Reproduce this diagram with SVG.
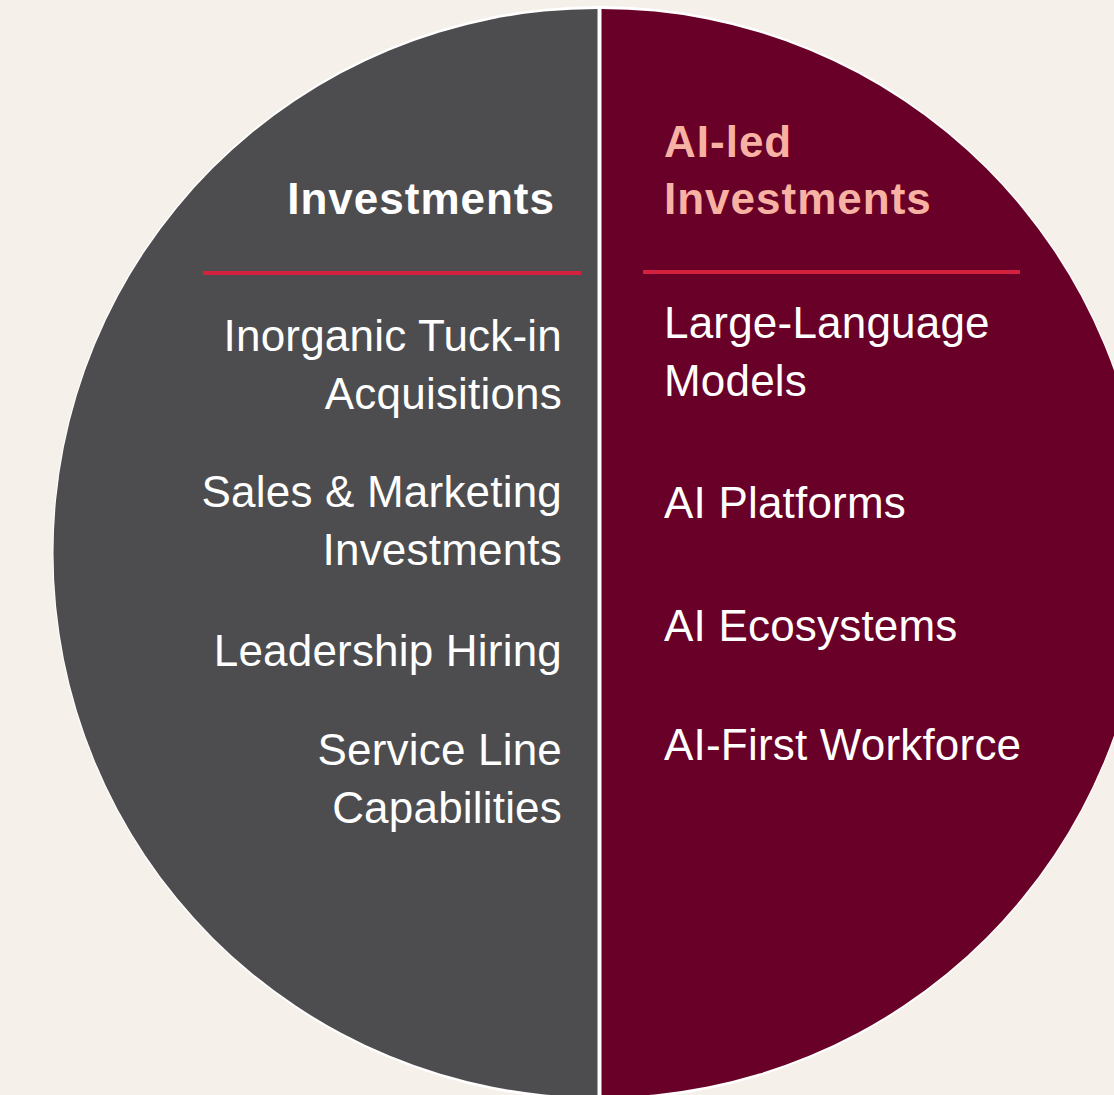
<svg xmlns="http://www.w3.org/2000/svg" width="1114" height="1095" viewBox="0 0 1114 1095">
<style>
.t{font-family:"Liberation Sans",Arial,sans-serif;font-size:44px;fill:#ffffff;letter-spacing:0.2px}
.h{font-family:"Liberation Sans",Arial,sans-serif;font-size:44px;font-weight:bold;letter-spacing:1px}
.l{text-anchor:end}
.rule{stroke:#D4213D;stroke-width:4}
</style>
<rect width="1114" height="1095" fill="#F5F0E9"/>
<g id="pie">
<circle cx="599.5" cy="553" r="547" fill="#ffffff"/>
<path id="left-half" d="M597.5,9 A544,544 0 0,0 597.5,1097 Z" fill="#4D4D4F"/>
<path id="right-half" d="M601.5,9 A544,544 0 0,1 601.5,1097 Z" fill="#690028"/>
</g>
<g id="left-node">
<text class="h l" x="555" y="214" fill="#ffffff">Investments</text>
<line class="rule" x1="203" y1="273" x2="581" y2="273"/>
<text class="t l" x="562" y="351">Inorganic Tuck-in</text>
<text class="t l" x="562" y="409">Acquisitions</text>
<text class="t l" x="562" y="507">Sales &amp; Marketing</text>
<text class="t l" x="562" y="565">Investments</text>
<text class="t l" x="562" y="666">Leadership Hiring</text>
<text class="t l" x="562" y="765">Service Line</text>
<text class="t l" x="562" y="823">Capabilities</text>
</g>
<g id="right-node">
<text class="h" x="664" y="157" fill="#F7B2A3">AI-led</text>
<text class="h" x="664" y="214" fill="#F7B2A3">Investments</text>
<line class="rule" x1="643" y1="272" x2="1020" y2="272"/>
<text class="t" x="664" y="338">Large-Language</text>
<text class="t" x="664" y="396">Models</text>
<text class="t" x="664" y="518">AI Platforms</text>
<text class="t" x="664" y="641">AI Ecosystems</text>
<text class="t" x="664" y="760">AI-First Workforce</text>
</g>
<g id="connectors"></g>
</svg>
